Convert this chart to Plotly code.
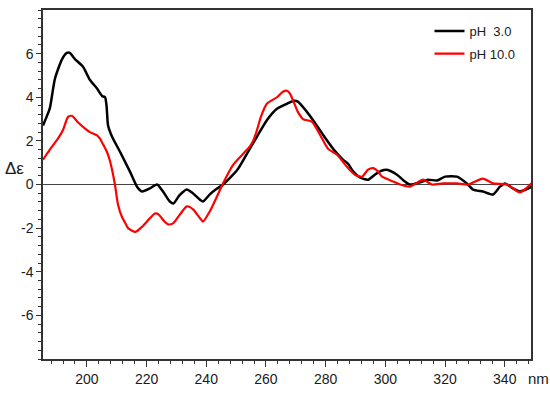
import plotly.graph_objects as go

# Wavelength (nm) and Δε values
wl_ph3 = [185.3, 186.5, 187.6, 189.3, 191.7, 193.3, 194.3, 196.0, 198.7, 201.0, 203.4, 205.1,
          206.1, 206.6, 207.1, 208.4, 211.1, 214.4, 216.8, 218.5, 221.1, 223.5, 225.5, 227.8,
          229.0, 231.0, 233.5, 235.5, 237.9, 238.9, 241.2, 243.5, 245.6, 250.3, 253.6, 257.0,
          260.3, 263.7, 267.0, 269.1, 270.7, 273.7, 275.8, 279.1, 282.5, 285.8, 287.5, 289.2,
          291.5, 294.2, 296.5, 298.5, 300.5, 303.9, 306.0, 308.2, 311.6, 314.3, 317.3, 320.0,
          324.0, 327.3, 329.4, 332.7, 336.1, 338.4, 340.1, 342.8, 345.1, 349.0]
cd_ph3 = [2.7, 3.1, 3.5, 4.85, 5.75, 6.03, 6.03, 5.75, 5.4, 4.8, 4.4, 4.06,
          4.0, 3.6, 2.7, 2.2, 1.5, 0.6, -0.1, -0.32, -0.18, 0.0, -0.32, -0.78,
          -0.87, -0.5, -0.23, -0.4, -0.7, -0.78, -0.45, -0.2, 0.0, 0.65, 1.4, 2.2,
          2.95, 3.47, 3.7, 3.83, 3.8, 3.33, 2.95, 2.28, 1.64, 1.14, 0.95, 0.6,
          0.32, 0.22, 0.45, 0.62, 0.68, 0.45, 0.2, 0.0, 0.1, 0.22, 0.18, 0.36,
          0.36, 0.05, -0.23, -0.32, -0.46, -0.1, 0.05, -0.18, -0.32, -0.1]

wl_ph10 = [185.3, 187.6, 190.3, 192.0, 193.7, 195.0, 197.0, 199.4, 201.0, 203.4, 204.4, 205.4,
           206.7, 207.7, 208.4, 209.4, 210.4, 211.8, 212.8, 213.8, 216.3, 218.8, 221.1, 222.8,
           224.0, 226.0, 227.2, 228.9, 231.2, 233.5, 235.6, 237.9, 238.9, 241.2, 243.6, 245.6,
           249.0, 252.3, 254.6, 255.7, 257.0, 258.3, 260.3, 263.7, 265.7, 267.0, 268.1, 270.7,
           272.4, 275.4, 278.1, 280.8, 283.8, 287.1, 289.8, 292.2, 294.2, 295.9, 297.5, 298.9,
           302.6, 305.0, 308.2, 312.6, 315.6, 319.3, 324.0, 327.7, 332.7, 336.1, 340.8, 345.1,
           349.0]
cd_ph10 = [1.14, 1.6, 2.1, 2.5, 3.1, 3.15, 2.85, 2.56, 2.4, 2.25, 2.1, 1.85,
           1.5, 1.1, 0.7, 0.0, -0.9, -1.5, -1.75, -2.0, -2.17, -1.9, -1.55, -1.33,
           -1.37, -1.7, -1.83, -1.78, -1.37, -1.0, -1.14, -1.55, -1.7, -1.23, -0.55, 0.05,
           0.9, 1.4, 1.75, 2.0, 2.5, 3.1, 3.7, 4.0, 4.25, 4.3, 4.16, 3.33,
           3.0, 2.88, 2.28, 1.64, 1.37, 0.82, 0.45, 0.36, 0.68, 0.75, 0.6, 0.36,
           0.14, 0.0, -0.1, 0.22, 0.0, 0.05, 0.05, 0.0, 0.27, 0.05, 0.0, -0.36,
           0.05]

x_ticks = [200, 220, 240, 260, 280, 300, 320, 340]
y_ticks = [-6, -4, -2, 0, 2, 4, 6]
y_ticktext = ["-6", "-4", "-2", "0", "2", "4", "6"]
labels = ["pH  3.0", "pH 10.0"]

FONT = "Liberation Sans, Arial, sans-serif"

fig = go.Figure()
fig.add_trace(go.Scatter(x=wl_ph3, y=cd_ph3, mode="lines", name=labels[0],
                         line=dict(color="#000000", width=2.5, shape="spline", smoothing=0.6),
                         legend="legend"))
fig.add_trace(go.Scatter(x=wl_ph10, y=cd_ph10, mode="lines", name=labels[1],
                         line=dict(color="#ff0000", width=2.2, shape="spline", smoothing=0.6),
                         legend="legend2"))

axis_common = dict(showline=True, linecolor="#333333", linewidth=1.5, mirror=True,
                   ticks="outside", tickcolor="#333333", tickwidth=1,
                   showgrid=False, tickfont=dict(family=FONT, size=14, color="#1a1a1a"))

fig.update_xaxes(range=[185.3, 348.8], tickvals=x_ticks, ticklen=6, zeroline=False,
                 minor=dict(ticks="outside", ticklen=3, tick0=200, dtick=4, tickcolor="#333333"),
                 **axis_common)
fig.update_yaxes(range=[-8, 8], tickvals=y_ticks, ticktext=y_ticktext, ticklen=5,
                 zeroline=True, zerolinecolor="#444444", zerolinewidth=1.3,
                 minor=dict(ticks="outside", ticklen=3, tick0=0, dtick=0.4, tickcolor="#333333"),
                 **axis_common)

legend_common = dict(font=dict(family=FONT, size=13, color="#1a1a1a"),
                     bgcolor="rgba(0,0,0,0)", xanchor="left", yanchor="middle",
                     itemwidth=30, borderwidth=0)
fig.update_layout(
    width=550, height=397,
    margin=dict(l=43, r=19, t=8, b=38),
    paper_bgcolor="white", plot_bgcolor="white",
    showlegend=True,
    legend=dict(x=0.792, y=0.94, **legend_common),
    legend2=dict(x=0.792, y=0.875, **legend_common),
    annotations=[
        dict(text="Δε", xref="paper", yref="paper", x=-0.058, y=0.545, showarrow=False,
             xanchor="center", yanchor="middle", font=dict(family=FONT, size=17, color="#1a1a1a")),
        dict(text="nm", xref="paper", yref="paper", x=1.016, y=-0.057, showarrow=False,
             xanchor="center", yanchor="middle", font=dict(family=FONT, size=15, color="#1a1a1a")),
    ],
)

fig.write_html("out.html", config={"displayModeBar": False},
               post_script="document.body.style.margin='0px';")
